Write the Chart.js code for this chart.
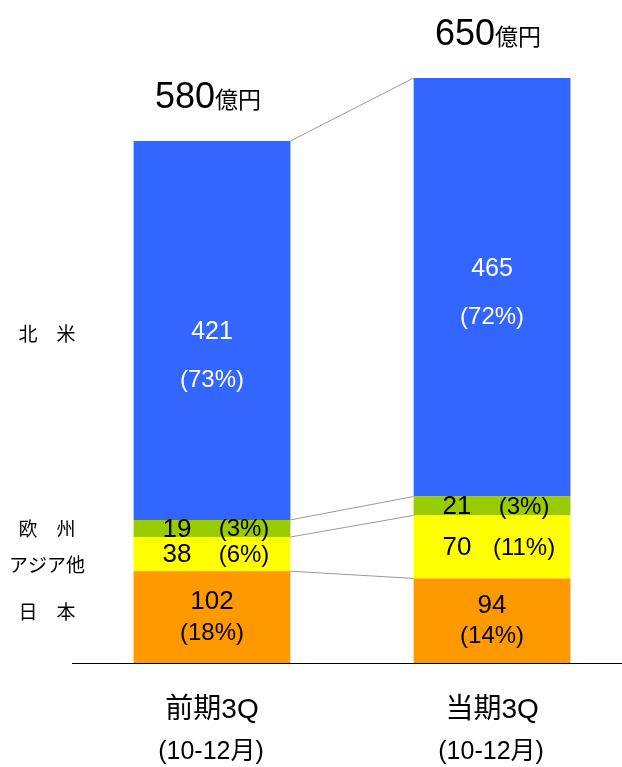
<!DOCTYPE html>
<html lang="ja">
<head>
<meta charset="utf-8">
<script src="https://cdn.jsdelivr.net/npm/chart.js@4"></script>
<style>
  html, body { margin: 0; padding: 0; background: #fff; }
  canvas { display: block; }
</style>
</head>
<body>
<canvas id="chart" width="622" height="767"></canvas>
<script>
// ===== DATA =====
const periods = ["前期3Q", "当期3Q"];
const periodSub = ["(10-12月)", "(10-12月)"];
const regions = ["日　本", "アジア他", "欧　州", "北　米"];
const japan = [102, 94];
const asia = [38, 70];
const europe = [19, 21];
const northAmerica = [421, 465];
const japanPct = [18, 14];
const asiaPct = [6, 11];
const europePct = [3, 3];
const northAmericaPct = [73, 72];
const totals = [580, 650];
const yTicks = [0, 700];

const FONT = '"Liberation Sans", "Noto Sans CJK JP", sans-serif';
const colors = ["#FF9900", "#FFFF00", "#99CC00", "#3366FF"];
const series = [japan, asia, europe, northAmerica];
const pcts = [japanPct, asiaPct, europePct, northAmericaPct];
// small vertical nudges for the region names on the left
const sideNudge = [-3, 13, 2, 5];

function txt(ctx, s, x, y, size, color, align) {
    ctx.font = size + "px " + FONT;
    ctx.fillStyle = color || "#000";
    ctx.textAlign = align || "center";
    ctx.fillText(s, x, y);
}

// ===== LABELS, CONNECTORS, BASELINE =====
const annotate = {
    id: "annotate",
    afterDatasetsDraw(chart) {
        const ctx = chart.ctx;
        const area = chart.chartArea;
        const metas = series.map((s, i) => chart.getDatasetMeta(i));
        ctx.save();

        // connector lines between the tops of matching segments
        ctx.strokeStyle = "#999999";
        ctx.lineWidth = 1;
        metas.forEach(m => {
            const a = m.data[0], b = m.data[1];
            ctx.beginPath();
            ctx.moveTo(a.x + a.width / 2, a.y);
            ctx.lineTo(b.x - b.width / 2, b.y);
            ctx.stroke();
        });

        // baseline
        ctx.strokeStyle = "#000";
        ctx.beginPath();
        ctx.moveTo(area.left, area.bottom + 0.5);
        ctx.lineTo(chart.width, area.bottom + 0.5);
        ctx.stroke();

        ctx.textBaseline = "middle";
        metas.forEach((m, si) => {
            m.data.forEach((bar, i) => {
                const mid = (bar.y + bar.base) / 2;
                const v = String(series[si][i]);
                const p = "(" + pcts[si][i] + "%)";
                if (si === 0) {
                    txt(ctx, v, bar.x, mid - 15, 26);
                    txt(ctx, p, bar.x, mid + 16, 24);
                } else if (si === 3) {
                    txt(ctx, v, bar.x, bar.y + 191, 25, "#fff");
                    txt(ctx, p, bar.x, bar.y + 239, 24, "#fff");
                } else {
                    txt(ctx, v, bar.x - 35, mid + 1, 26);
                    txt(ctx, p, bar.x + 32, mid + 1, 24);
                }
            });
        });

        // region names, next to the first bar
        metas.forEach((m, si) => {
            const bar = m.data[0];
            txt(ctx, regions[si], 47, (bar.y + bar.base) / 2 + sideNudge[si], 19);
        });

        // totals above the bars
        const top = metas[3].data;
        ctx.textBaseline = "alphabetic";
        top.forEach((bar, i) => {
            const num = String(totals[i]);
            ctx.font = "36px " + FONT;
            const w1 = ctx.measureText(num).width;
            ctx.font = "23px " + FONT;
            const w2 = ctx.measureText("億円").width;
            const x0 = bar.x - 4 - (w1 + w2) / 2;
            txt(ctx, num, x0, bar.y - 33, 36, "#000", "left");
            txt(ctx, "億円", x0 + w1, bar.y - 33, 23, "#000", "left");
        });

        // category labels
        ctx.textBaseline = "middle";
        top.forEach((bar, i) => {
            txt(ctx, periods[i], bar.x, area.bottom + 47, 28);
            txt(ctx, periodSub[i], bar.x - 1, area.bottom + 89, 25);
        });

        ctx.restore();
    }
};

new Chart(document.getElementById("chart"), {
    type: "bar",
    data: {
        datasets: series.map((vals, si) => ({
            label: regions[si],
            data: vals.map((v, i) => ({ x: i, y: v })),
            backgroundColor: colors[si],
            borderWidth: 0,
            categoryPercentage: 1,
            barPercentage: 0.56
        }))
    },
    options: {
        responsive: false,
        animation: false,
        layout: { padding: { left: 72, right: 0, top: 33, bottom: 104 } },
        plugins: { legend: { display: false }, tooltip: { enabled: false } },
        scales: {
            x: {
                type: "linear", display: false, stacked: true, offset: false,
                min: -0.5, max: 1.464,
                afterBuildTicks: s => { s.ticks = periods.map((p, i) => ({ value: i })); }
            },
            y: { display: false, stacked: true, min: yTicks[0], max: yTicks[1] }
        }
    },
    plugins: [annotate]
});
</script>
</body>
</html>
